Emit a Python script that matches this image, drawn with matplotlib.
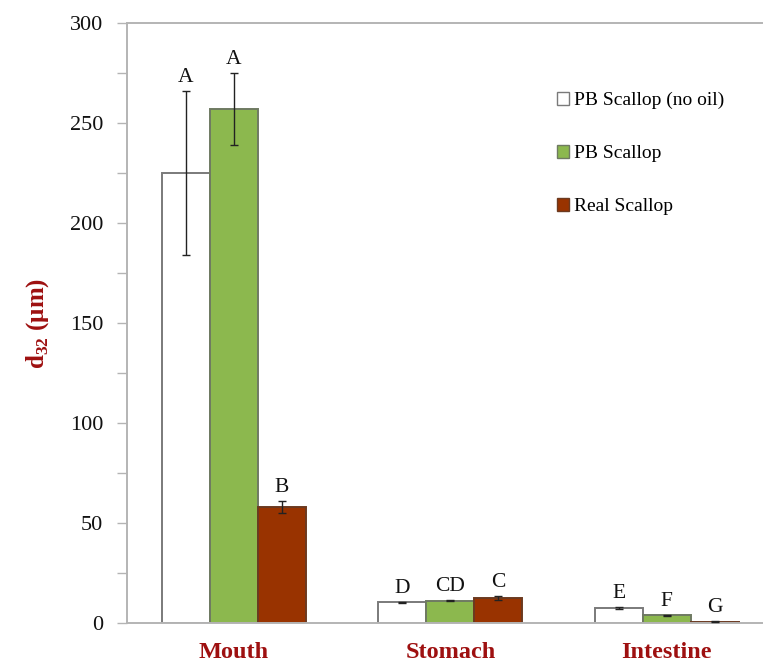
import matplotlib
matplotlib.use("Agg")
import matplotlib.pyplot as plt
from matplotlib.patches import Patch
from matplotlib.ticker import MultipleLocator
import numpy as np

# Droplet size d32 along the digestion tract
regions = ["Mouth", "Stomach", "Intestine"]
series = ["PB Scallop (no oil)", "PB Scallop", "Real Scallop"]
d32_no_oil = [225.0, 10.3, 7.4]
d32_pb = [257.0, 11.2, 3.8]
d32_real = [58.0, 12.5, 0.6]
err_no_oil = [41.0, 0.4, 0.4]
err_pb = [18.0, 0.4, 0.3]
err_real = [3.0, 1.0, 0.2]
letters_no_oil = ["A", "D", "E"]
letters_pb = ["A", "CD", "F"]
letters_real = ["B", "C", "G"]

plt.rcParams["font.family"] = ["Liberation Serif", "DejaVu Serif"]
plt.rcParams["mathtext.fontset"] = "custom"
plt.rcParams["mathtext.rm"] = "Liberation Serif"
plt.rcParams["mathtext.bf"] = "Liberation Serif:bold"

fills = ["#ffffff", "#8cb84e", "#993300"]
edges = ["#7a7a7a", "#6f7a62", "#6b3a20"]
label_red = "#9e1010"
axis_grey = "#b4b4b4"

fig = plt.figure(figsize=(7.65, 6.68), dpi=100)
ax = fig.add_axes([127 / 765, 45 / 668, (762 - 127) / 765, 600 / 668])

x = np.arange(len(regions))
width = 0.222
all_vals = [d32_no_oil, d32_pb, d32_real]
all_errs = [err_no_oil, err_pb, err_real]
all_letters = [letters_no_oil, letters_pb, letters_real]

for i, (vals, errs, lets) in enumerate(zip(all_vals, all_errs, all_letters)):
    pos = x + (i - 1) * width
    ax.bar(pos, vals, width, color=fills[i], edgecolor=edges[i], linewidth=1.4,
           zorder=2)
    ax.errorbar(pos, vals, yerr=errs, fmt="none", ecolor="#222222",
                elinewidth=1.0, capsize=3, capthick=1.0, zorder=3)
    for p, v, e, t in zip(pos, vals, errs, lets):
        ax.text(p, v + e + 4.5, t, ha="center", va="baseline", fontsize=15.5,
                color="#111111", zorder=4)

ax.set_xlim(-0.494, 2.44)
ax.set_ylim(0, 300)
ax.yaxis.set_major_locator(MultipleLocator(50))
ax.yaxis.set_minor_locator(MultipleLocator(25))
ax.tick_params(axis="y", which="both", direction="out", length=7, width=1.0,
               color=axis_grey, labelsize=16, pad=10, labelcolor="#111111")
ax.set_xticks(x)
ax.set_xticklabels(regions, fontsize=17.5, fontweight="bold", color=label_red)
ax.tick_params(axis="x", length=0, pad=14)

ax.spines["right"].set_visible(False)
for side in ("left", "bottom", "top"):
    ax.spines[side].set_color(axis_grey)
    ax.spines[side].set_linewidth(1.4)

ax.set_ylabel(r"$\mathbf{d}_{\mathbf{32}}$ ($\mathbf{\mu}$m)", fontsize=18,
              fontweight="bold", color=label_red, labelpad=14)

handles = [Patch(facecolor=fills[i], edgecolor=edges[i], linewidth=1.0)
           for i in range(3)]
ax.legend(handles, series, loc="upper left",
          bbox_to_anchor=(557 / 765, 1 - 92 / 668),
          bbox_transform=fig.transFigure, frameon=False, fontsize=14,
          handlelength=0.6, handleheight=0.6, handletextpad=0.3,
          labelspacing=1.85, borderpad=0, borderaxespad=0)

fig.savefig("out.png", dpi=100, facecolor="white")
